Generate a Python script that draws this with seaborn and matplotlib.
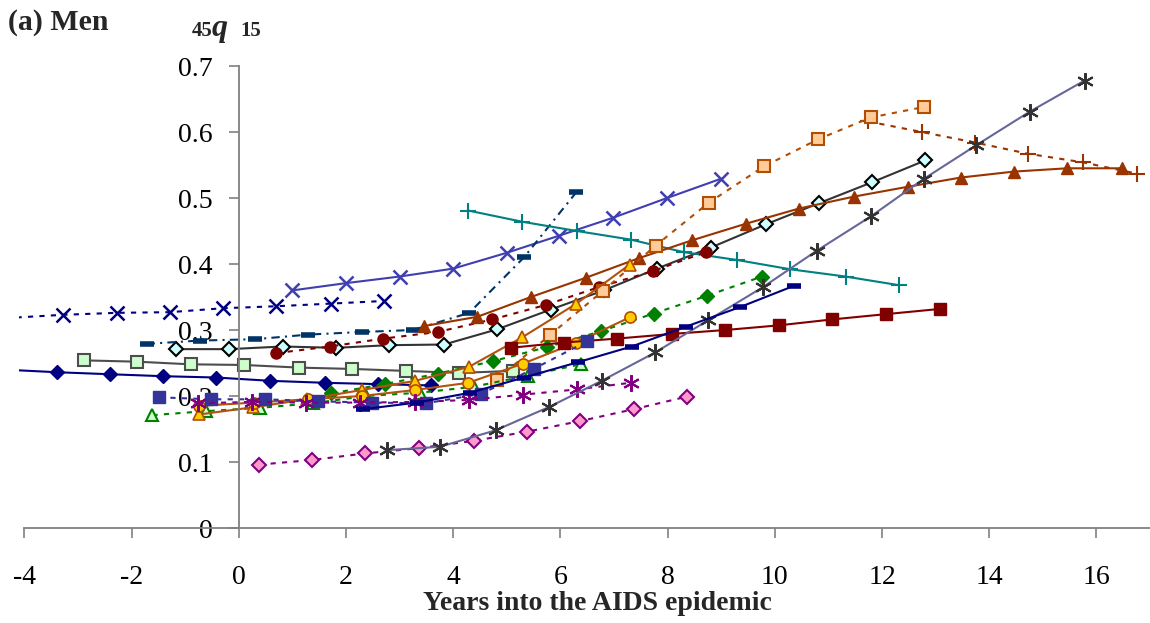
import numpy as np
import pandas as pd
import matplotlib
matplotlib.use("Agg")
import matplotlib.pyplot as plt
import seaborn as sns

# ---------------- data (years into epidemic, 45q15) ----------------
x_navy_xdot = [-4.36, -3.28, -2.28, -1.29, -0.29, 0.70, 1.72, 2.71]
y_navy_xdot = [0.318, 0.323, 0.326, 0.327, 0.333, 0.336, 0.340, 0.344]

x_blue_x = [1.0, 2.0, 3.0, 4.0, 5.0, 5.98, 6.98, 7.99, 8.99]
y_blue_x = [0.360, 0.371, 0.381, 0.393, 0.417, 0.443, 0.470, 0.500, 0.529]

x_dashdot = [-1.72, -0.73, 0.30, 1.29, 2.29, 3.25, 4.30, 5.32, 6.30]
y_dashdot = [0.279, 0.284, 0.286, 0.293, 0.297, 0.300, 0.326, 0.410, 0.509]

x_teal_plus = [4.28, 5.29, 6.31, 7.31, 8.30, 9.30, 10.29, 11.32, 12.31]
y_teal_plus = [0.481, 0.464, 0.450, 0.437, 0.418, 0.406, 0.392, 0.381, 0.368]

x_brown_tri = [3.46, 4.45, 5.45, 6.47, 7.47, 8.46, 9.46, 10.45, 11.47, 12.48, 13.47, 14.46, 15.45, 16.48]
y_brown_tri = [0.306, 0.320, 0.350, 0.379, 0.409, 0.436, 0.461, 0.484, 0.502, 0.517, 0.531, 0.540, 0.545, 0.545]

x_brown_plus = [11.74, 12.74, 13.74, 14.73, 15.75, 16.75]
y_brown_plus = [0.616, 0.600, 0.584, 0.567, 0.554, 0.537]

x_orange_sq = [4.81, 5.80, 6.79, 7.78, 8.77, 9.80, 10.81, 11.79, 12.79]
y_orange_sq = [0.225, 0.292, 0.359, 0.428, 0.493, 0.548, 0.589, 0.622, 0.638]

x_red_circ = [0.70, 1.70, 2.70, 3.71, 4.73, 5.73, 6.72, 7.72, 8.71]
y_red_circ = [0.265, 0.275, 0.287, 0.297, 0.316, 0.338, 0.365, 0.389, 0.418]

x_cyan_dia = [-1.18, -0.18, 0.82, 1.81, 2.80, 3.83, 4.82, 5.82, 6.81, 7.80, 8.81, 9.83, 10.82, 11.82, 12.81]
y_cyan_dia = [0.271, 0.271, 0.275, 0.273, 0.277, 0.278, 0.301, 0.331, 0.360, 0.393, 0.425, 0.460, 0.492, 0.524, 0.557]

x_green_sq = [-2.89, -1.90, -0.90, 0.10, 1.13, 2.12, 3.12, 4.11, 5.11]
y_green_sq = [0.254, 0.252, 0.248, 0.247, 0.243, 0.241, 0.238, 0.235, 0.238]

x_navy_dia = [-4.38, -3.39, -2.41, -1.41, -0.42, 0.59, 1.60, 2.60, 3.59]
y_navy_dia = [0.240, 0.236, 0.233, 0.230, 0.228, 0.223, 0.220, 0.218, 0.216]

x_green_dia = [1.73, 2.72, 3.72, 4.75, 5.75, 6.75, 7.74, 8.74, 9.76]
y_green_dia = [0.204, 0.218, 0.234, 0.253, 0.274, 0.298, 0.325, 0.352, 0.381]

x_green_tri = [-1.61, -0.62, 0.39, 1.38, 2.37, 3.38, 4.38, 5.39, 6.38]
y_green_tri = [0.171, 0.177, 0.182, 0.189, 0.200, 0.205, 0.214, 0.231, 0.248]

x_yellow_tri = [-0.74, 0.27, 1.27, 2.29, 3.29, 4.29, 5.29, 6.30, 7.29]
y_yellow_tri = [0.172, 0.183, 0.195, 0.209, 0.223, 0.244, 0.289, 0.340, 0.399]

x_yellow_circ = [-0.74, 0.28, 1.29, 2.29, 3.28, 4.28, 5.30, 6.30, 7.29]
y_yellow_circ = [0.185, 0.190, 0.195, 0.200, 0.209, 0.220, 0.249, 0.281, 0.319]

x_red_sq = [5.07, 6.06, 7.06, 8.08, 9.08, 10.07, 11.07, 12.07, 13.09]
y_red_sq = [0.273, 0.281, 0.287, 0.294, 0.300, 0.307, 0.316, 0.324, 0.332]

x_blue_sq = [-1.49, -0.51, 0.49, 1.48, 2.48, 3.49, 4.51, 5.50, 6.50]
y_blue_sq = [0.198, 0.195, 0.195, 0.192, 0.190, 0.189, 0.203, 0.241, 0.283]

x_purple_ast = [-0.76, 0.24, 1.25, 2.26, 3.28, 4.29, 5.30, 6.31, 7.31]
y_purple_ast = [0.189, 0.191, 0.190, 0.190, 0.191, 0.194, 0.202, 0.210, 0.220]

x_pink_dia = [0.38, 1.36, 2.36, 3.36, 4.38, 5.38, 6.37, 7.37, 8.36]
y_pink_dia = [0.096, 0.103, 0.113, 0.121, 0.132, 0.146, 0.162, 0.180, 0.199]

x_gray_ast = [2.76, 3.75, 4.79, 5.78, 6.77, 7.77, 8.76, 9.78, 10.78, 11.79, 12.78, 13.76, 14.76, 15.78]
y_gray_ast = [0.118, 0.123, 0.148, 0.183, 0.223, 0.266, 0.315, 0.365, 0.420, 0.472, 0.529, 0.580, 0.631, 0.678]

x_navy_dash = [2.32, 3.32, 4.32, 5.32, 6.32, 7.33, 8.34, 9.36, 10.36]
y_navy_dash = [0.180, 0.190, 0.205, 0.228, 0.251, 0.275, 0.305, 0.335, 0.367]

x_ticks = [-4, -2, 0, 2, 4, 6, 8, 10, 12, 14, 16]
y_ticks = [0, 0.1, 0.2, 0.3, 0.4, 0.5, 0.6, 0.7]
y_tick_labels = ["0", "0.1", "0.2", "0.3", "0.4", "0.5", "0.6", "0.7"]

# ---------------- styles ----------------
DOT = (0, (2.5, 3))
DASHDOT = (0, (4, 2.5, 1, 2.5))
AST = (6, 2, 0)
series = [
    (x_green_sq, y_green_sq, dict(color="#4d4d4d", linestyle="-", marker="s", ms=8, mfc="#ccffcc", mec="#4d4d4d", mew=1.5)),
    (x_navy_dia, y_navy_dia, dict(color="#000080", linestyle="-", marker="D", ms=7, mfc="#000080", mec="#000080", mew=1)),
    (x_cyan_dia, y_cyan_dia, dict(color="#333333", linestyle="-", marker="D", ms=7, mfc="#ccffff", mec="#000000", mew=1.5)),
    (x_navy_xdot, y_navy_xdot, dict(color="#000080", linestyle=DOT, marker="x", ms=10, mfc="#000080", mec="#000080", mew=1.8)),
    (x_blue_x, y_blue_x, dict(color="#3f3fb0", linestyle="-", marker="x", ms=10, mfc="#3f3fb0", mec="#3f3fb0", mew=1.8)),
    (x_dashdot, y_dashdot, dict(color="#003366", linestyle=DASHDOT, marker="_", ms=10, mfc="#003366", mec="#003366", mew=4)),
    (x_teal_plus, y_teal_plus, dict(color="#008080", linestyle="-", marker="+", ms=12, mfc="#008080", mec="#008080", mew=1.5)),
    (x_red_circ, y_red_circ, dict(color="#800000", linestyle=DOT, marker="o", ms=8, mfc="#800000", mec="#800000", mew=1)),
    (x_brown_tri, y_brown_tri, dict(color="#993300", linestyle="-", marker="^", ms=9, mfc="#993300", mec="#993300", mew=1)),
    (x_brown_plus, y_brown_plus, dict(color="#993300", linestyle=DOT, marker="+", ms=12, mfc="#993300", mec="#993300", mew=1.5)),
    (x_orange_sq, y_orange_sq, dict(color="#b34d00", linestyle=DOT, marker="s", ms=8, mfc="#ffcc99", mec="#b34d00", mew=1.5)),
    (x_green_dia, y_green_dia, dict(color="#008000", linestyle=DOT, marker="D", ms=7, mfc="#008000", mec="#008000", mew=1)),
    (x_green_tri, y_green_tri, dict(color="#008000", linestyle=DOT, marker="^", ms=9, mfc="#ccffcc", mec="#008000", mew=1.5)),
    (x_yellow_tri, y_yellow_tri, dict(color="#b3520f", linestyle="-", marker="^", ms=9, mfc="#ffcc00", mec="#b34d00", mew=1.2)),
    (x_yellow_circ, y_yellow_circ, dict(color="#b3520f", linestyle="-", marker="o", ms=8, mfc="#ffcc00", mec="#b34d00", mew=1.2)),
    (x_red_sq, y_red_sq, dict(color="#800000", linestyle="-", marker="s", ms=8, mfc="#800000", mec="#800000", mew=1)),
    (x_blue_sq, y_blue_sq, dict(color="#333399", linestyle=DOT, marker="s", ms=8, mfc="#333399", mec="#333399", mew=1)),
    (x_purple_ast, y_purple_ast, dict(color="#800080", linestyle=DOT, marker=AST, ms=12, mfc="#800080", mec="#800080", mew=1.5)),
    (x_pink_dia, y_pink_dia, dict(color="#800080", linestyle=DOT, marker="D", ms=7, mfc="#ff99cc", mec="#800080", mew=1.5)),
    (x_gray_ast, y_gray_ast, dict(color="#666699", linestyle="-", marker=AST, ms=12, mfc="#333333", mec="#333333", mew=1.5)),
    (x_navy_dash, y_navy_dash, dict(color="#000080", linestyle="-", marker="_", ms=10, mfc="#000080", mec="#000080", mew=4)),
]

sns.set_style("white")
plt.rcParams["font.family"] = ["Liberation Serif", "DejaVu Serif"]

fig = plt.figure(figsize=(11.5, 6.23), dpi=100)
W, H = 1150, 623
ax = fig.add_axes([19 / W, 1 - 528 / H, (1150 - 19) / W, (528 - 66) / H])

for xs, ys, st in series:
    df = pd.DataFrame({"t": xs, "q": ys})
    sns.lineplot(data=df, x="t", y="q", ax=ax, estimator=None, sort=False, errorbar=None,
                 color=st["color"], linestyle=st["linestyle"], linewidth=1.5,
                 marker=st["marker"], markersize=st["ms"], markerfacecolor=st["mfc"],
                 markeredgecolor=st["mec"], markeredgewidth=st["mew"])

ax.set_xlim(-4.1, 17.0)
ax.set_ylim(0, 0.7)
ax.set_xlabel("")
ax.set_ylabel("")
ax.set_facecolor("white")
for s in ["top", "right"]:
    ax.spines[s].set_visible(False)
ax.spines["left"].set_position(("data", 0))
ax.spines["left"].set_bounds(0, 0.7)
ax.spines["bottom"].set_bounds(-4, 17)
for s in ["left", "bottom"]:
    ax.spines[s].set_color("#808080")
    ax.spines[s].set_linewidth(1.3)

ax.set_xticks(x_ticks)
ax.set_xticklabels([str(v) for v in x_ticks])
ax.set_yticks(y_ticks)
ax.set_yticklabels(y_tick_labels)
ax.tick_params(axis="x", direction="out", length=7, width=1.2, color="#808080",
               pad=20, labelsize=20, labelcolor="black")
ax.tick_params(axis="y", direction="out", length=7, width=1.2, color="#808080",
               pad=12, labelsize=20, labelcolor="black")
ax.xaxis.set_ticks_position("bottom")
ax.yaxis.set_ticks_position("left")

fig.text(597 / W, 1 - 604 / H, "Years into the AIDS epidemic", ha="center", va="center",
         fontsize=20, fontweight="bold")
fig.text(8 / W, 1 - 22 / H, "(a) Men", ha="left", va="center", fontsize=21.5, fontweight="bold")
fig.text(192 / W, 1 - 36 / H, "45", ha="left", va="baseline", fontsize=15, fontweight="bold")
fig.text(212 / W, 1 - 36 / H, "q", ha="left", va="baseline", fontsize=23, fontweight="bold",
         fontstyle="italic")
fig.text(240 / W, 1 - 36 / H, "15", ha="left", va="baseline", fontsize=15, fontweight="bold")

fig.savefig("out.png", dpi=100, facecolor="white")
